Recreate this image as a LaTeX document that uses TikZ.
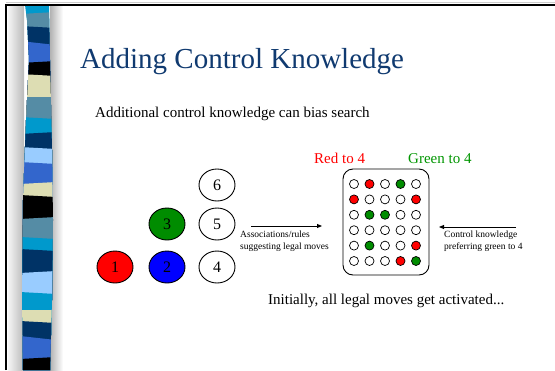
\documentclass[tikz,border=0pt]{standalone}
\usepackage{fontspec}
\setmainfont{Liberation Serif}
\usetikzlibrary{shapes.geometric,arrows.meta}
\definecolor{titleblue}{RGB}{16,58,112}
\definecolor{stcyan}{RGB}{0,153,204}
\definecolor{ststeel}{RGB}{85,140,165}
\definecolor{stnavy}{RGB}{0,51,102}
\definecolor{stroyal}{RGB}{51,102,204}
\definecolor{stbeige}{RGB}{221,221,179}
\definecolor{stlight}{RGB}{153,204,255}
\definecolor{pegred}{RGB}{255,0,0}
\definecolor{peggreen}{RGB}{0,140,0}
\definecolor{pegblue}{RGB}{0,0,255}
\definecolor{labgreen}{RGB}{0,150,0}

\begin{document}
\begin{tikzpicture}[x=1pt,y=-1pt,
  disc/.style={ellipse,draw=black,line width=0.9pt,minimum width=36pt,minimum height=32pt,inner sep=0pt,font=\fontsize{16}{18}\selectfont},
  ho/.style={circle,draw=black,line width=0.7pt,minimum size=9pt,inner sep=0pt,fill=white},
  hr/.style={ho,fill=pegred},
  hg/.style={ho,fill=peggreen},
  note/.style={font=\fontsize{9.5}{11.5}\selectfont,align=left,inner sep=0pt,anchor=north west},
  body/.style={font=\fontsize{15}{18}\selectfont,inner sep=0pt,anchor=base west},
  link/.style={-{Triangle[length=5pt,width=4pt]},line width=0.9pt}]

\useasboundingbox (0,0) rectangle (555,370);
\fill[white] (0,0) rectangle (555,370);

% soft shading on both sides of the striped band
\shade[left color=gray!8,right color=gray!55] (8,5) rectangle (24,370);
\shade[left color=gray!60,right color=white] (50,5) rectangle (63,370);

% striped band
\begin{scope}
  \clip (25,5) -- (49,5) -- (50,60) -- (52,150) -- (53,220) -- (52,300) -- (50,370)
        -- (23,370) -- (22,300) -- (23,200) -- (26,120) -- (29,60) -- (27,20) -- cycle;
  \foreach \y/\t/\c in {5/0/stcyan, 13/1/ststeel, 27/-1/stnavy, 43/-2/stroyal,
      62/1/black, 75/-1/stbeige, 97/0/ststeel, 118/-1/stcyan, 133/1/stnavy,
      148/-1/stlight, 163/-1/stroyal, 183/1/stbeige, 196/-1/black, 218/1/ststeel,
      238/-1/stcyan, 250/-1/stnavy, 272/1/stlight, 293/-1/stcyan, 310/0/stbeige,
      322/-1/stnavy, 338/-2/stroyal, 358/1/black}
    \fill[\c] (20,\y+\t) -- (56,\y-\t) -- (56,371) -- (20,371) -- cycle;
\end{scope}

% frame
\draw[gray!40,line width=1pt] (6,2.5) -- (555,2.5);
\draw[black,line width=2pt] (6,370) -- (6,5) -- (555,5);

% headings
\node[anchor=base west,inner sep=0pt,text=titleblue,font=\fontsize{29}{34}\selectfont]
  (title) at (80,68) {Adding Control Knowledge};
\node[body] (sub) at (95,117) {Additional control knowledge can bias search};

% numbered discs
\node[disc,fill=pegred]   (d1) at (115,267) {1};
\node[disc,fill=pegblue]  (d2) at (167,267) {2};
\node[disc,fill=peggreen] (d3) at (167,224) {3};
\node[disc] (d4) at (217,267) {4};
\node[disc] (d5) at (217,224) {5};
\node[disc] (d6) at (217,185) {6};

% board with holes
\node[draw,rounded corners=10pt,line width=0.9pt,minimum width=86pt,minimum height=106pt,inner sep=0pt]
  (board) at (386,222) {};
\foreach \r/\pat in {1/{o,r,o,g,o}, 2/{r,o,o,o,r}, 3/{o,g,g,o,o},
                     4/{o,o,o,o,o}, 5/{o,g,o,o,r}, 6/{o,o,o,r,g}}
  \foreach \k [count=\c] in \pat
    \node[h\k] (h-\r-\c) at ({354+15.5*(\c-1)},{184+15.4*(\r-1)}) {};

\node[body,text=pegred]   (redlab)   at (314,163) {Red to 4};
\node[body,text=labgreen] (greenlab) at (408,163) {Green to 4};

% arrows and their notes
\coordinate (a1) at (251,226);
\coordinate (a2) at (322,226);
\draw[link] (a1) -- (a2);
\coordinate (b1) at (516,227);
\coordinate (b2) at (439,227);
\draw[link] (b1) -- (b2);
\node[note] (assoc) at (240,231) {Associations/rules\\suggesting legal moves};
\node[note] (ctrl)  at (444,231) {Control knowledge\\preferring green to 4};

\node[body] (init) at (268,304) {Initially, all legal moves get activated...};
\end{tikzpicture}
\end{document}
